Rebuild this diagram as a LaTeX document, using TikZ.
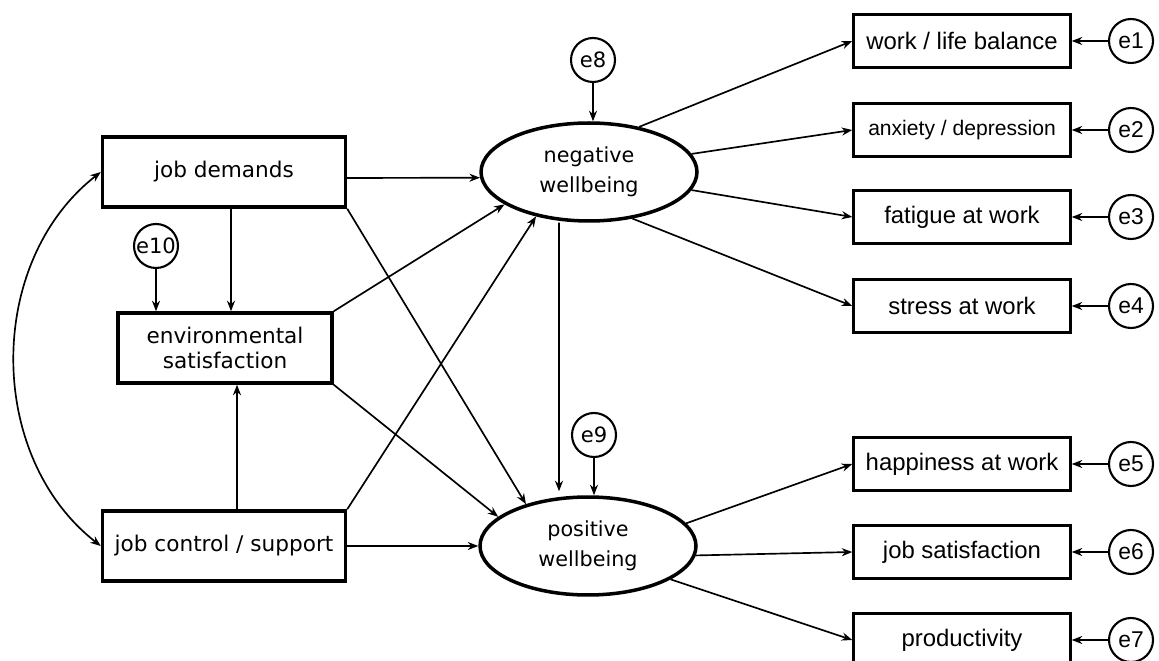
\documentclass[tikz,border=0pt]{standalone}
\usepackage{fontspec}
\setmainfont{DejaVu Sans}
\newfontfamily\arialfont{Liberation Sans}
\usetikzlibrary{arrows.meta,shapes.geometric}

\begin{document}
\begin{tikzpicture}[
            x=0.02cm, y=-0.02cm,
            >={Stealth[length=6pt, width=4.6pt]},
            effect/.style = {->, line width=0.95pt},
            covary/.style = {<->, line width=0.95pt},
            cause/.style = {shape=rectangle, draw, line width=2pt, minimum width=4.86cm, minimum height=1.40cm, inner sep=0pt, align=center, font=\fontsize{12.3}{14.7}\selectfont},
            indicator/.style = {shape=rectangle, draw, line width=1.7pt, minimum width=4.33cm, minimum height=1.05cm, inner sep=0pt, font=\arialfont\fontsize{13.6}{16}\selectfont},
            factor/.style = {shape=ellipse, draw, line width=2pt, minimum width=4.32cm, minimum height=1.96cm, inner sep=0pt, align=center, font=\fontsize{11.8}{17}\selectfont},
            residual/.style = {shape=circle, draw, line width=1.2pt, minimum size=0.88cm, inner sep=0pt, font=\arialfont\fontsize{13}{15}\selectfont}
        ]

        \useasboundingbox (0,0) rectangle (1159,661);

        \node[cause] (jd) at (224,172) {job demands};
        \node[cause, minimum width=4.28cm] (env) at (225,348) {environmental\\satisfaction};
        \node[cause] (jc) at (224,546) {job control / support};
        \node[residual, font=\fontsize{12}{14}\selectfont] (e10) at (156,246) {e10};

        \node[factor] (neg) at (589,172) {negative\\wellbeing};
        \node[factor] (pos) at (588,546) {positive\\wellbeing};
        \node[residual, font=\fontsize{12}{14}\selectfont] (e8) at (593,60) {e8};
        \node[residual, font=\fontsize{12}{14}\selectfont] (e9) at (594,435) {e9};

        \node[indicator] (wlb) at (962,41) {work / life balance};
        \node[indicator, font=\arialfont\fontsize{12}{14}\selectfont] (anx) at (962,130) {anxiety / depression};
        \node[indicator] (fat) at (962,217) {fatigue at work};
        \node[indicator] (str) at (962,306) {stress at work};
        \node[indicator] (hap) at (962,464) {happiness at work};
        \node[indicator] (sat) at (962,552) {job satisfaction};
        \node[indicator] (prod) at (962,640) {productivity};

        \node[residual] (e1) at (1131,41) {e1};
        \node[residual] (e2) at (1131,130) {e2};
        \node[residual] (e3) at (1131,217) {e3};
        \node[residual] (e4) at (1131,306) {e4};
        \node[residual] (e5) at (1131,464) {e5};
        \node[residual] (e6) at (1131,552) {e6};
        \node[residual] (e7) at (1131,640) {e7};

        \draw[covary] (jd.west) to[bend right=52] (jc.west);
        \draw[effect] (e10) -- (e10 |- env.north);
        \draw[effect] ([xshift=0.14cm]jd.south) -- ([xshift=0.12cm]env.north);
        \draw[effect] ([xshift=0.26cm]jc.north) -- ([xshift=0.24cm]env.south);

        \draw[effect] ([yshift=-0.12cm]jd.east) -- (neg.183);
        \draw[effect] (env.north east) -- (neg.201);
        \draw[effect] (jc.north east) -- (neg.220);
        \draw[effect] (jd.south east) -- (pos.146);
        \draw[effect] (env.south east) -- (pos.162);
        \draw[effect] (jc.east) -- (pos.west);
        \draw[effect] ([xshift=-0.6cm]neg.south) -- ([xshift=-0.58cm, yshift=0.08cm]pos.north);
        \draw[effect] (e8) -- (e8 |- neg.north);
        \draw[effect] (e9) -- (e9 |- pos.north);

        \draw[effect] (neg.42) -- (wlb.west);
        \draw[effect] (neg.10) -- (anx.west);
        \draw[effect] (neg.-10) -- (fat.west);
        \draw[effect] (neg.-47) -- (str.west);
        \draw[effect] (pos.13) -- (hap.west);
        \draw[effect] (pos.-5) -- (sat.west);
        \draw[effect] (pos.-22) -- (prod.west);

        \draw[effect] (e1) -- (wlb);
        \draw[effect] (e2) -- (anx);
        \draw[effect] (e3) -- (fat);
        \draw[effect] (e4) -- (str);
        \draw[effect] (e5) -- (hap);
        \draw[effect] (e6) -- (sat);
        \draw[effect] (e7) -- (prod);
    \end{tikzpicture}
\end{document}
